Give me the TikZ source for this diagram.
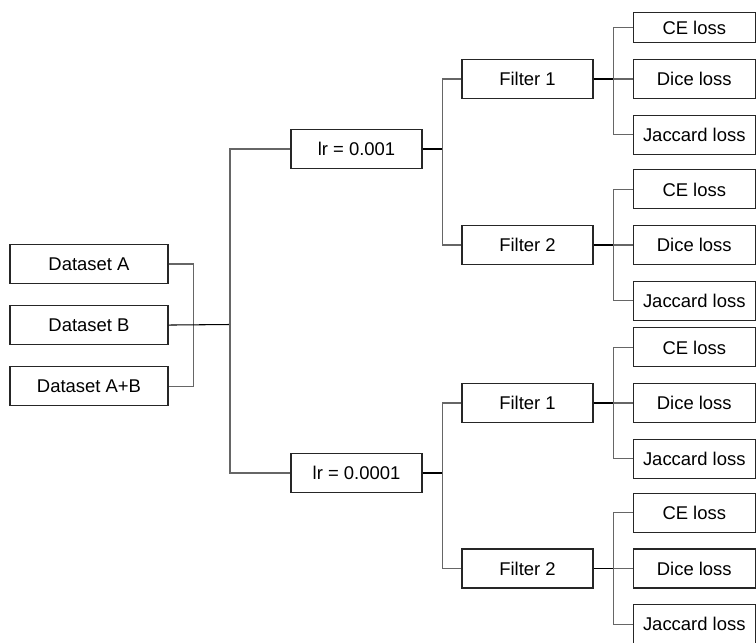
\documentclass[tikz,border=0pt]{standalone}
\usepackage{fontspec}
\setmainfont{Liberation Sans}
\usetikzlibrary{positioning}

\begin{document}
\begin{tikzpicture}[
    x=0.02cm, y=-0.02cm,
    node distance=0.31cm,
    box/.style={draw=black!85, line width=0.6pt, inner sep=0pt, minimum height=0.78cm, font=\fontsize{10.5}{12}\selectfont},
    databox/.style={box, minimum width=3.16cm},
    parbox/.style={box, minimum width=2.62cm},
    lossbox/.style={box, minimum width=2.45cm},
    stub/.style={line width=0.6pt, black},
    branch/.style={line width=0.6pt, black!60}]
    \useasboundingbox (0,0) rectangle (756,642);

    % datasets
    \node[databox] (dsA) at (89,264) {Dataset A};
    \node[databox, below=0.42cm of dsA] (dsB) {Dataset B};
    \node[databox, below=0.42cm of dsB] (dsAB) {Dataset A+B};

    % learning rates
    \node[parbox] (lr1) at (356.5,149) {lr = 0.001};
    \node[parbox] (lr2) at (356.5,473) {lr = 0.0001};

    % filters
    \node[parbox] (f1) at (527.5,79) {Filter 1};
    \node[parbox] (f2) at (527.5,245) {Filter 2};
    \node[parbox] (f3) at (527.5,403) {Filter 1};
    \node[parbox] (f4) at (527.5,568.5) {Filter 2};

    % losses
    \node[lossbox, right=0.78cm of f1] (dc1) {Dice loss};
    \node[lossbox, above=of dc1, minimum height=0.6cm] (ce1) {CE loss};
    \node[lossbox, below=of dc1] (jc1) {Jaccard loss};
    \node[lossbox, right=0.78cm of f2] (dc2) {Dice loss};
    \node[lossbox, above=of dc2] (ce2) {CE loss};
    \node[lossbox, below=of dc2] (jc2) {Jaccard loss};
    \node[lossbox, right=0.78cm of f3] (dc3) {Dice loss};
    \node[lossbox, above=of dc3] (ce3) {CE loss};
    \node[lossbox, below=of dc3] (jc3) {Jaccard loss};
    \node[lossbox, right=0.78cm of f4] (dc4) {Dice loss};
    \node[lossbox, above=of dc4] (ce4) {CE loss};
    \node[lossbox, below=of dc4] (jc4) {Jaccard loss};

    % datasets -> lr
    \coordinate (join) at (230,324.5);
    \draw[branch] (dsA.east) -- ++(25,0) |- (dsAB.east);
    \draw[stub] (dsB.east) -- (join);
    \draw[branch] (lr1.west) -| (join) |- (lr2.west);

    % lr -> filters
    \draw[stub] (lr1.east) -- ++(20,0) coordinate (lr1b);
    \draw[branch] (f1.west) -| (lr1b) |- (f2.west);
    \draw[stub] (lr2.east) -- ++(20,0) coordinate (lr2b);
    \draw[branch] (f3.west) -| (lr2b) |- (f4.west);

    % filters -> losses
    \draw[stub] (f1.east) -- ++(20,0) coordinate (f1b);
    \draw[branch] (ce1.west) -| (f1b) |- (jc1.west); \draw[branch] (f1b) -- (dc1.west);
    \draw[stub] (f2.east) -- ++(20,0) coordinate (f2b);
    \draw[branch] (ce2.west) -| (f2b) |- (jc2.west); \draw[branch] (f2b) -- (dc2.west);
    \draw[stub] (f3.east) -- ++(20,0) coordinate (f3b);
    \draw[branch] (ce3.west) -| (f3b) |- (jc3.west); \draw[branch] (f3b) -- (dc3.west);
    \draw[stub] (f4.east) -- ++(20,0) coordinate (f4b);
    \draw[branch] (ce4.west) -| (f4b) |- (jc4.west); \draw[branch] (f4b) -- (dc4.west);
\end{tikzpicture}
\end{document}
